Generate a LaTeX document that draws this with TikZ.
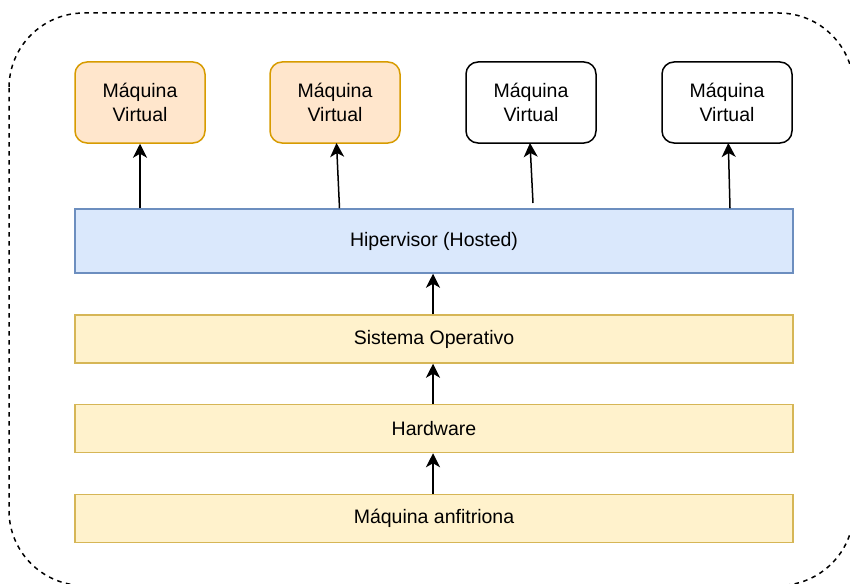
\documentclass[tikz,border=0pt]{standalone}
\usepackage{fontspec}
\setmainfont{Liberation Sans}
\usetikzlibrary{arrows.meta}
\definecolor{orfill}{HTML}{FFE6CC}
\definecolor{ordraw}{HTML}{D79B00}
\definecolor{blfill}{HTML}{DAE8FC}
\definecolor{bldraw}{HTML}{6C8EBF}
\definecolor{yefill}{HTML}{FFF2CC}
\definecolor{yedraw}{HTML}{D6B656}
\tikzset{
  vmbox/.style={draw, rounded corners=12pt, line width=1.5pt, minimum width=130pt, minimum height=81pt, align=center, font=\fontsize{19.5}{23.5}\selectfont, inner sep=0pt},
  vmor/.style={vmbox, fill=orfill, draw=ordraw},
  vmwh/.style={vmbox, fill=white, draw=black},
  layerbox/.style={draw, line width=1.5pt, minimum width=718pt, align=center, font=\fontsize{19.5}{23.5}\selectfont, inner sep=0pt},
  hyp/.style={layerbox, fill=blfill, draw=bldraw, minimum height=64pt},
  yel/.style={layerbox, fill=yefill, draw=yedraw, minimum height=48pt},
  conn/.style={line width=1.5pt, -{Stealth[length=14pt,width=14pt,inset=4pt]}},
  outline/.style={dash pattern=on 4.5pt off 4.5pt, line width=1.5pt, rounded corners=75pt}
}
\begin{document}
\begin{tikzpicture}[x=1pt,y=-1pt]
\useasboundingbox (0,0) rectangle (850,583);
\draw[outline] (9,13) rectangle (853.7,585.5);
\node[vmor] (vm1) at (140,102.5) {Máquina\\Virtual};
\node[vmor] (vm2) at (335,102.5) {Máquina\\Virtual};
\node[vmwh] (vm3) at (531,102.5) {Máquina\\Virtual};
\node[vmwh] (vm4) at (727,102.5) {Máquina\\Virtual};
\node[hyp] (hyp) at (434,241) {\raisebox{-2pt}{Hipervisor (Hosted)}};
\node[yel] (so) at (434,339) {\raisebox{-2pt}{Sistema Operativo}};
\node[yel] (hw) at (434,428.5) {\raisebox{-2pt}{Hardware}};
\node[yel] (host) at (434,518.5) {\raisebox{-2pt}{Máquina anfitriona}};
\coordinate (s3) at (533,203);
\draw[conn] (hyp.north -| vm1.south) -- (vm1.south);
\draw[conn] (hyp.north -| 339.5,0) -- (336.5,143);
\draw[conn] (s3) -- (530,143);
\draw[conn] (hyp.north -| 730,0) -- (728.3,143);
\draw[conn] (host.north -| 433,0) -- (hw.south -| 433,0);
\draw[conn] (hw.north -| 433,0) -- (so.south -| 433,0);
\draw[conn] (so.north -| 433,0) -- (hyp.south -| 433,0);
\end{tikzpicture}
\end{document}
